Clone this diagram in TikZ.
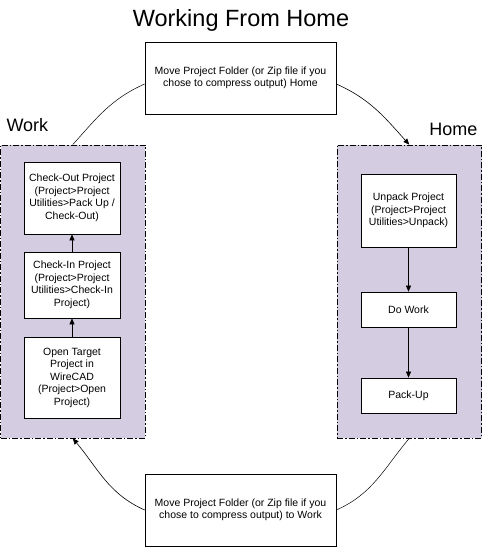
\documentclass[tikz,border=0pt]{standalone}
\usepackage{fontspec}
\setmainfont{Liberation Sans}
\usetikzlibrary{arrows.meta}
\definecolor{grouplilac}{RGB}{212,204,224}
\tikzset{
  stepbox/.style={draw, fill=white, line width=0.7pt, inner sep=0pt, align=center,
    font=\fontsize{10.5}{12.5}\selectfont},
  groupbox/.style={draw, fill=grouplilac, line width=0.7pt, inner sep=0pt,
    dash pattern=on 6pt off 2pt on 1.5pt off 2pt},
  flow/.style={line width=0.6pt, -{Triangle[length=6pt,width=5pt]}},
  arc/.style={line width=0.5pt},
}
\newcommand{\STEP}[5]{
  \node[stepbox, minimum width=#3, minimum height=#4] (#1) at #2 {#5};
}

\begin{document}
\begin{tikzpicture}[x=1pt,y=1pt]
  \useasboundingbox (0,0) rectangle (482,547);

  \node[anchor=base, font=\fontsize{23.5}{28}\selectfont] (title) at (241,520) {Working From Home};

  % locations
  \node[groupbox, minimum width=144.5pt, minimum height=293pt] (workgrp) at (72.75,255.5) {};
  \node[groupbox, minimum width=144.5pt, minimum height=293pt] (homegrp) at (409.25,255.5) {};
  \node[anchor=base west, font=\fontsize{18}{21}\selectfont] (worklbl) at (3,415) {Work};
  \node[anchor=base east, font=\fontsize{18}{21}\selectfont] (homelbl) at (481,411) {Home};

  % moving between
  \STEP{tohome}{(240.5,469)}{191pt}{72pt}{Move Project Folder (or Zip file if you\\chose to compress output) Home}
  \STEP{towork}{(240.5,37)}{191pt}{72pt}{Move Project Folder (or Zip file if you\\chose to compress output) to Work}

  % at work
  \STEP{checkout}{(72,349)}{96pt}{72pt}{Check-Out Project\\(Project>Project\\Utilities>Pack Up /\\Check-Out)}
  \STEP{checkin}{(72,262)}{96pt}{66pt}{Check-In Project\\(Project>Project\\Utilities>Check-In\\Project)}
  \STEP{opentgt}{(72,169.5)}{96pt}{81pt}{Open Target\\Project in\\WireCAD\\(Project>Open\\Project)}
  \draw[flow] (opentgt) -- (checkin);
  \draw[flow] (checkin) -- (checkout);

  % at home
  \STEP{unpack}{(408.5,336.5)}{95pt}{73pt}{Unpack Project\\(Project>Project\\Utilities>Unpack)}
  \STEP{dowork}{(408.5,237.5)}{95pt}{35pt}{Do Work}
  \STEP{packup}{(408.5,151.5)}{95pt}{35pt}{Pack-Up}
  \draw[flow] (unpack) -- (dowork);
  \draw[flow] (dowork) -- (packup);

  % the round trip
  \draw[arc] ([yshift=-6pt]tohome.west) to[out=204, in=48] (workgrp.north);
  \draw[arc, flow] ([yshift=-6pt]tohome.east) to[out=-24, in=132] (homegrp.north);
  \draw[arc] (homegrp.south) to[out=230, in=24] (towork.east);
  \draw[arc, flow] (towork.west) to[out=156, in=310] (workgrp.south);
\end{tikzpicture}
\end{document}
